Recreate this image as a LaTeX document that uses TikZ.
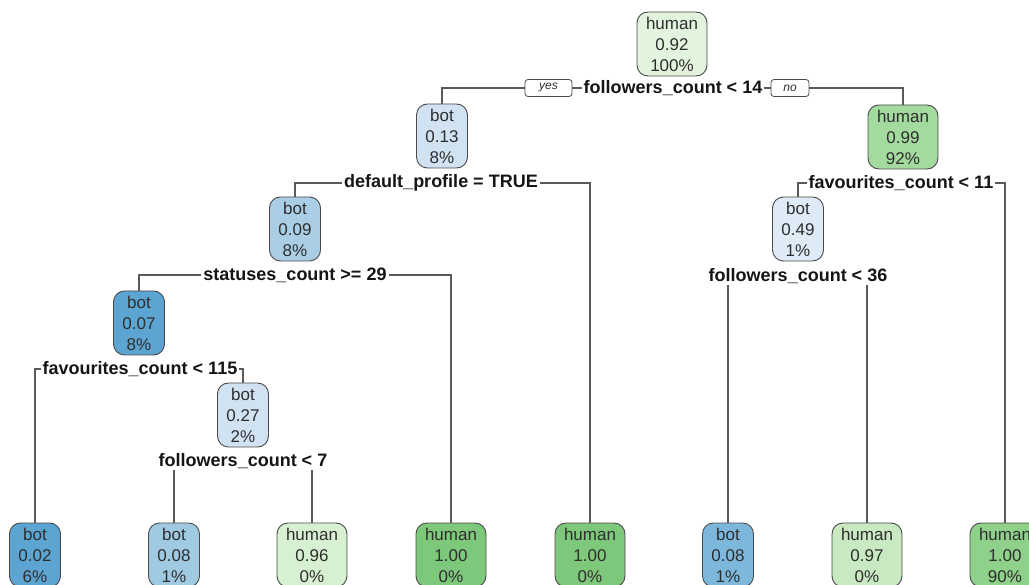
\documentclass[tikz,border=0pt]{standalone}
\usepackage{fontspec}
\setmainfont{Liberation Sans}
\definecolor{boxline}{HTML}{4A4A4A}
\definecolor{edgecol}{HTML}{5A5A5A}
\definecolor{nodetext}{HTML}{2E2E2E}
\definecolor{labeltext}{HTML}{151515}
% fills, from light to dark
\definecolor{gA}{HTML}{E3F4DE}
\definecolor{gB}{HTML}{D8F0D2}
\definecolor{gC}{HTML}{C8E9C1}
\definecolor{gD}{HTML}{A3DA9D}
\definecolor{gE}{HTML}{8FD08B}
\definecolor{gF}{HTML}{7EC87B}
\definecolor{bA}{HTML}{DEEAF6}
\definecolor{bB}{HTML}{D1E2F3}
\definecolor{bC}{HTML}{A9CEE5}
\definecolor{bD}{HTML}{A0CAE2}
\definecolor{bE}{HTML}{7DB8DC}
\definecolor{bF}{HTML}{5CA4D1}
\begin{document}
\begin{tikzpicture}[x=1pt,y=-1pt,
  box/.style={draw=boxline, line width=0.9pt, rounded corners=11pt, inner sep=0pt,
    minimum height=64pt, align=center, text=nodetext,
    font=\fontsize{17}{21}\selectfont},
  botbox/.style={box, minimum width=51pt},
  humbox/.style={box, minimum width=70pt},
  split/.style={fill=white, inner xsep=2pt, inner ysep=1pt, text=labeltext,
    font=\bfseries\fontsize{18}{20}\selectfont},
  edge/.style={draw=edgecol, line width=1.1pt},
  tag/.style={draw=boxline, fill=white, rounded corners=3pt, line width=0.8pt,
    inner sep=0pt, minimum height=17pt, text=nodetext,
    font=\itshape\fontsize{12}{12}\selectfont}]
\useasboundingbox[fill=white] (0,0) rectangle (1029,585);

% inner nodes
\node[humbox, fill=gA] (root) at (672,44)  {human\\0.92\\100\%};
\node[botbox, fill=bB] (n2)   at (442,136) {bot\\0.13\\8\%};
\node[humbox, fill=gD] (n3)   at (903,137) {human\\0.99\\92\%};
\node[botbox, fill=bC] (n4)   at (295,229) {bot\\0.09\\8\%};
\node[botbox, fill=bF] (n5)   at (139,323) {bot\\0.07\\8\%};
\node[botbox, fill=bB] (n6)   at (243,415) {bot\\0.27\\2\%};
\node[botbox, fill=bA] (n7)   at (798,229) {bot\\0.49\\1\%};

% leaves
\node[botbox, fill=bF] (l1) at (35,555)   {bot\\0.02\\6\%};
\node[botbox, fill=bD] (l2) at (174,555)  {bot\\0.08\\1\%};
\node[humbox, fill=gB] (l3) at (312,555)  {human\\0.96\\0\%};
\node[humbox, fill=gF] (l4) at (451,555)  {human\\1.00\\0\%};
\node[humbox, fill=gF] (l5) at (590,555)  {human\\1.00\\0\%};
\node[botbox, fill=bE] (l6) at (728,555)  {bot\\0.08\\1\%};
\node[humbox, fill=gC] (l7) at (867,555)  {human\\0.97\\0\%};
\node[humbox, fill=gE] (l8) at (1005,555) {human\\1.00\\90\%};

% split positions
\coordinate (s1) at (673,88);
\coordinate (s2) at (441,183);
\coordinate (s3) at (901,183);
\coordinate (s4) at (295,275);
\coordinate (s5) at (140,369);
\coordinate (s6) at (243,461);
\coordinate (s7) at (798,276);

% connectors
\draw[edge] (n2.north) |- (s1) -| (n3.north);
\draw[edge] (n4.north) |- (s2) -| (l5.north);
\draw[edge] (n5.north) |- (s4) -| (l4.north);
\draw[edge] (l1.north) |- (s5) -| (n6.north);
\draw[edge] (l2.north) |- (s6) -| (l3.north);
\draw[edge] (n7.north) |- (s3) -| (l8.north);
\draw[edge] (l6.north) |- (s7) -| (l7.north);

% split labels
\node[split] (t1) at (s1) {followers\_count < 14};
\node[split] (t2) at (s2) {default\_profile = TRUE};
\node[split] (t3) at (s3) {favourites\_count < 11};
\node[split] (t4) at (s4) {statuses\_count >= 29};
\node[split] (t5) at (s5) {favourites\_count < 115};
\node[split] (t6) at (s6) {followers\_count < 7};
\node[split] (t7) at (s7) {followers\_count < 36};

% branch tags
\node[tag, minimum width=47pt] (yes) at (548.5,88) {yes};
\node[tag, minimum width=38pt] (no)  at (790,88)  {no};
\end{tikzpicture}
\end{document}
